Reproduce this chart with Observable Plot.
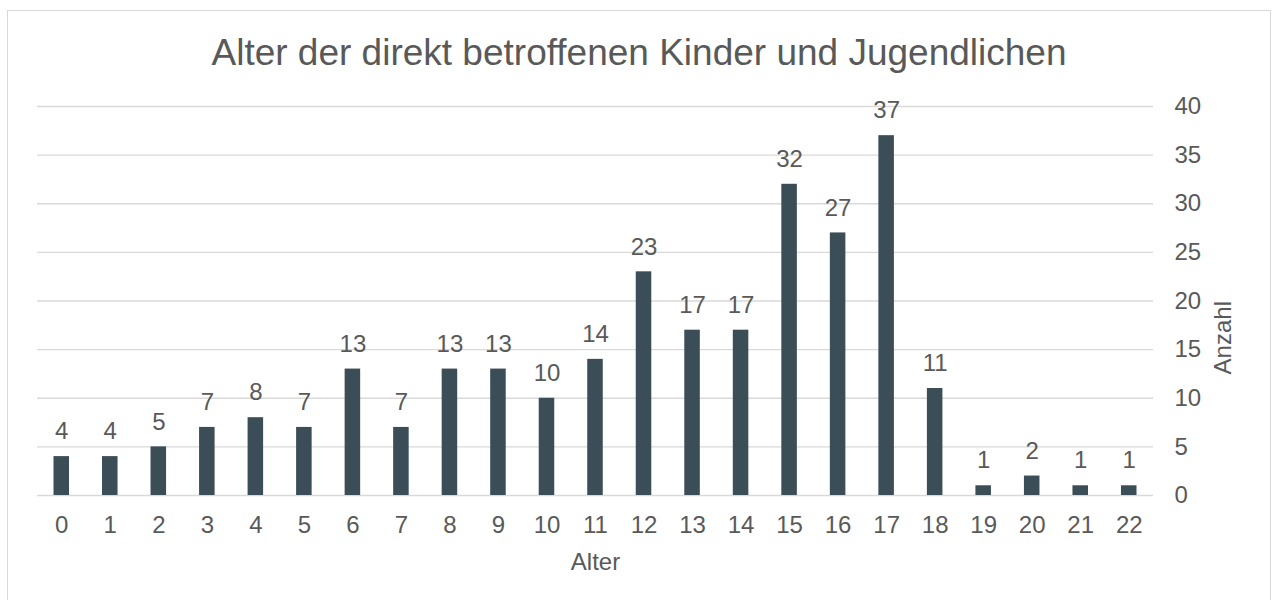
<!DOCTYPE html>
<html>
<head>
<meta charset="utf-8">
<script src="https://cdn.jsdelivr.net/npm/d3@7"></script>
<script src="https://cdn.jsdelivr.net/npm/@observablehq/plot@0.6"></script>
<style>
  html, body { margin: 0; padding: 0; background: #fff; width: 1274px; height: 600px; overflow: hidden; }
  #frame { position: absolute; left: 7px; top: 10px; width: 1264px; height: 620px; border: 1px solid #d9d9d9; box-sizing: border-box; }
  #title { position: absolute; left: 7px; width: 1264px; top: 32px; text-align: center;
           font-family: "Liberation Sans", Arial, sans-serif; font-size: 37px; line-height: 42px; color: #595959; }
  #chart { position: absolute; left: 0; top: 0; }
</style>
</head>
<body>
<div id="frame"></div>
<div id="title">Alter der direkt betroffenen Kinder und Jugendlichen</div>
<div id="chart"></div>
<script>
const ages = ["0","1","2","3","4","5","6","7","8","9","10","11","12","13","14","15","16","17","18","19","20","21","22"];
const counts = [4,4,5,7,8,7,13,7,13,13,10,14,23,17,17,32,27,37,11,1,2,1,1];
const yTicks = [0,5,10,15,20,25,30,35,40];
const xTitle = "Alter";
const yTitle = "Anzahl";

const data = ages.map((a, i) => ({age: a, count: counts[i]}));
const textColor = "#595959";
const barColor = "#3b4d57";

const chart = Plot.plot({
  width: 1274,
  height: 600,
  marginLeft: 37,
  marginRight: 121,
  marginTop: 106,
  marginBottom: 105,
  style: {fontFamily: '"Liberation Sans", Arial, sans-serif', fontSize: "24px", color: textColor, background: "transparent", overflow: "visible"},
  x: {type: "band", domain: ages, paddingInner: 0.68, paddingOuter: 0.34, round: false, axis: "bottom", tickSize: 0, tickPadding: 20, label: null},
  y: {domain: [0, 40], axis: "right", ticks: yTicks, tickSize: 0, tickPadding: 21, label: null},
  marks: [
    Plot.ruleY(yTicks, {stroke: "#d9d9d9", strokeWidth: 1.3}),
    Plot.barY(data, {x: "age", y: "count", fill: barColor}),
    Plot.text(data, {x: "age", y: "count", text: d => String(d.count), lineAnchor: "middle", dy: -25, fill: textColor, fontSize: 24}),
    Plot.text([xTitle], {frameAnchor: "bottom", text: d => d, lineAnchor: "top", dy: 57, fill: textColor, fontSize: 24}),
    Plot.text([yTitle], {frameAnchor: "right", text: d => d, rotate: -90, dx: 70, fill: textColor, fontSize: 24})
  ]
});
document.getElementById("chart").appendChild(chart);
</script>
</body>
</html>
